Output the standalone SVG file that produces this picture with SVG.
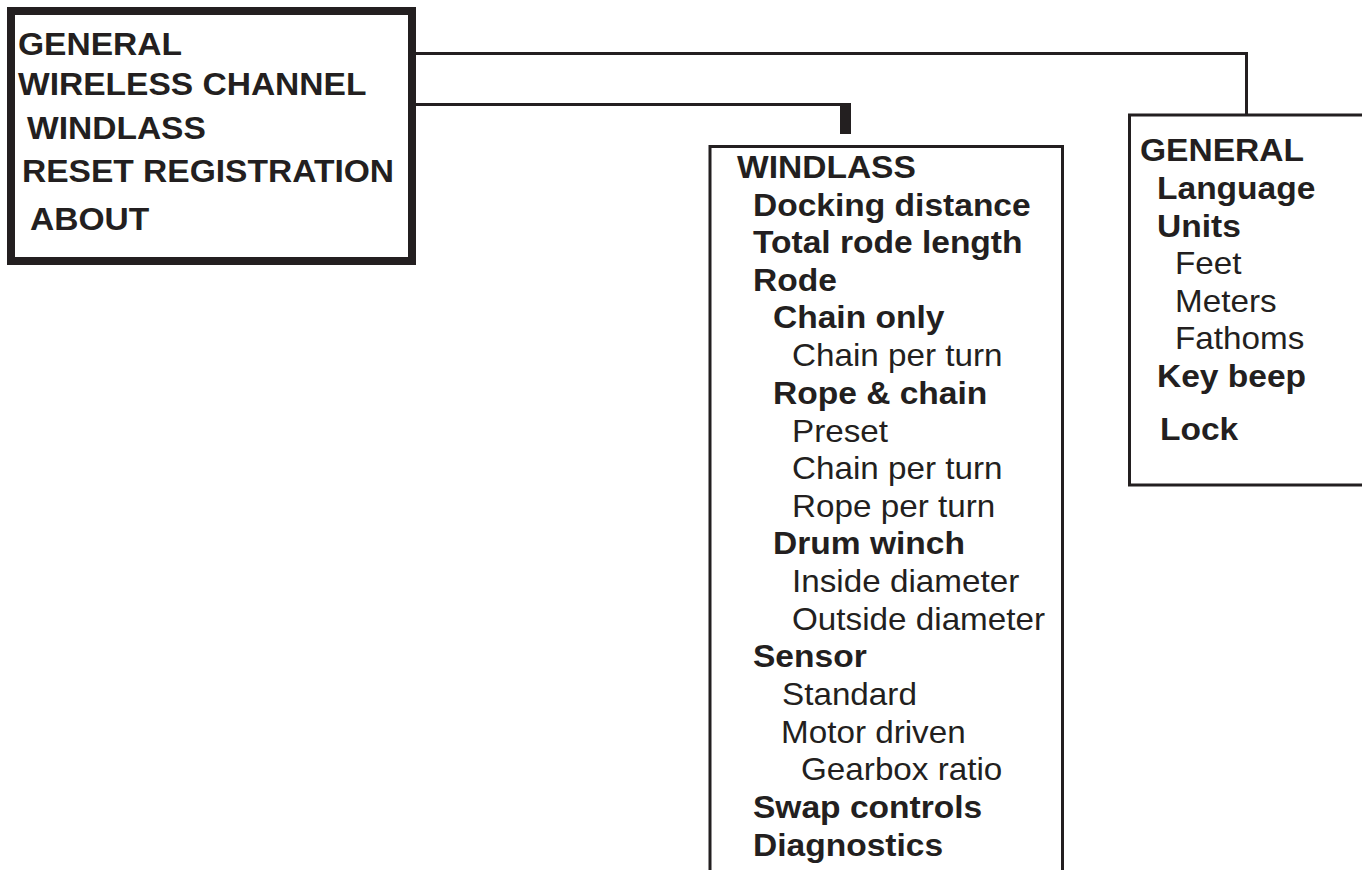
<svg xmlns="http://www.w3.org/2000/svg" width="1362" height="870" viewBox="0 0 1362 870">
<style>
.b{font-family:"Liberation Sans",Arial,sans-serif;font-weight:bold;font-size:30.5px;fill:#231f20}
.r{font-family:"Liberation Sans",Arial,sans-serif;font-size:30.5px;fill:#231f20}
.box{fill:#fff;stroke:#231f20}
.con{fill:none;stroke:#231f20;stroke-width:3}
</style>
<rect width="1362" height="870" fill="#fff"/>
<g id="connectors">
<path class="con" d="M416,53.5 H1246.5 V121"/>
<path class="con" d="M416,104.5 H851"/>
<path d="M845.5,103 V134" stroke="#231f20" stroke-width="11" fill="none"/>
</g>
<g id="main-menu">
<rect class="box" x="11" y="11" width="401" height="250" stroke-width="8"/>
<text class="b" transform="translate(18,55) scale(1.1,1)">GENERAL</text>
<text class="b" transform="translate(18,95) scale(1.1,1)">WIRELESS CHANNEL</text>
<text class="b" transform="translate(27,139) scale(1.1,1)">WINDLASS</text>
<text class="b" transform="translate(22,182) scale(1.1,1)">RESET REGISTRATION</text>
<text class="b" transform="translate(30,230) scale(1.1,1)">ABOUT</text>
</g>
<g id="windlass-menu">
<path class="box" d="M710,880 V146.5 H1062.5 V880" stroke-width="3"/>
<text class="b" transform="translate(737,178) scale(1.1,1)">WINDLASS</text>
<text class="b" transform="translate(753,215.5) scale(1.1,1)">Docking distance</text>
<text class="b" transform="translate(753,253) scale(1.1,1)">Total rode length</text>
<text class="b" transform="translate(753,290.5) scale(1.1,1)">Rode</text>
<text class="b" transform="translate(773,328) scale(1.1,1)">Chain only</text>
<text class="r" transform="translate(792,366) scale(1.09,1)">Chain per turn</text>
<text class="b" transform="translate(773,404) scale(1.1,1)">Rope &amp; chain</text>
<text class="r" transform="translate(792,441.5) scale(1.09,1)">Preset</text>
<text class="r" transform="translate(792,479) scale(1.09,1)">Chain per turn</text>
<text class="r" transform="translate(792,516.5) scale(1.09,1)">Rope per turn</text>
<text class="b" transform="translate(773,554) scale(1.1,1)">Drum winch</text>
<text class="r" transform="translate(792,592) scale(1.09,1)">Inside diameter</text>
<text class="r" transform="translate(792,629.5) scale(1.09,1)">Outside diameter</text>
<text class="b" transform="translate(753,667) scale(1.1,1)">Sensor</text>
<text class="r" transform="translate(782,705) scale(1.09,1)">Standard</text>
<text class="r" transform="translate(781,742.5) scale(1.09,1)">Motor driven</text>
<text class="r" transform="translate(801,780) scale(1.09,1)">Gearbox ratio</text>
<text class="b" transform="translate(753,818) scale(1.1,1)">Swap controls</text>
<text class="b" transform="translate(753,855.5) scale(1.1,1)">Diagnostics</text>
</g>
<g id="general-menu">
<rect class="box" x="1129.5" y="115" width="300" height="370" stroke-width="3"/>
<text class="b" transform="translate(1140,161) scale(1.1,1)">GENERAL</text>
<text class="b" transform="translate(1157,199) scale(1.1,1)">Language</text>
<text class="b" transform="translate(1157,236.5) scale(1.1,1)">Units</text>
<text class="r" transform="translate(1175,274) scale(1.09,1)">Feet</text>
<text class="r" transform="translate(1175,311.5) scale(1.09,1)">Meters</text>
<text class="r" transform="translate(1175,349) scale(1.09,1)">Fathoms</text>
<text class="b" transform="translate(1157,387) scale(1.1,1)">Key beep</text>
<text class="b" transform="translate(1160,440) scale(1.1,1)">Lock</text>
</g>
</svg>
